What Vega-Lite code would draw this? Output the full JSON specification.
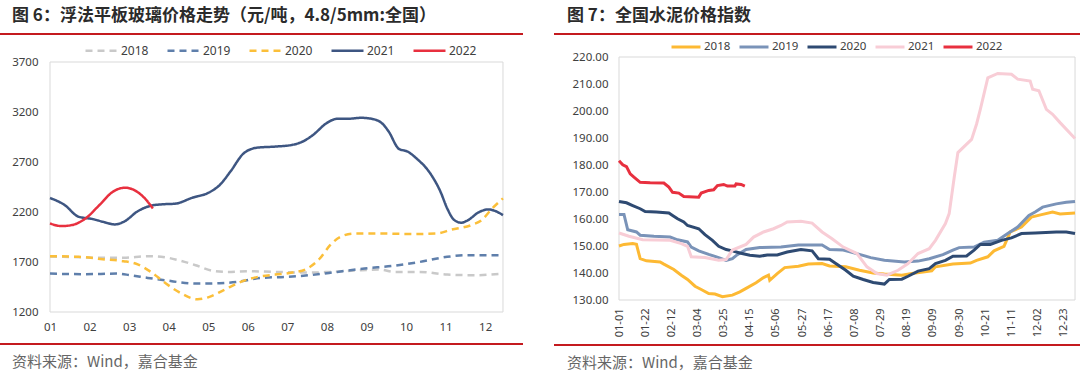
{
  "$schema": "https://vega.github.io/schema/vega-lite/v6.json",
  "background": "white",
  "padding": {"left": 0, "top": 7, "right": 0, "bottom": 0},
  "config": {
    "view": {"stroke": null},
    "axis": {"labelFont": "Noto Sans", "labelColor": "#404040", "grid": false, "domain": false, "ticks": false, "labelFlush": false, "labelOverlap": false, "title": null},
    "legend": {"labelFont": "Noto Sans", "labelColor": "#404040", "labelFontSize": 12}
  },
  "resolve": {"scale": {"color": "independent", "strokeDash": "independent"}, "legend": {"color": "independent", "strokeDash": "independent"}},
  "spacing": 31,
  "hconcat": [
    {
      "spacing": 10,
      "vconcat": [
        {
          "width": 523, "height": 2,
          "title": {"text": "图 6：浮法平板玻璃价格走势（元/吨，4.8/5mm:全国）", "anchor": "start", "dx": 12, "offset": 8, "fontSize": 17, "font": "Noto Sans CJK SC", "fontWeight": "bold", "color": "#2b2b2b"},
          "data": {"values": [{}]},
          "mark": {"type": "rect", "color": "#c41a1f"},
          "encoding": {}
        },
        {
          "width": 523, "height": 267,
          "layer": [
            {
              "data": {"values": [{}]},
              "mark": {"type": "rect", "filled": false, "color": "#d9d9d9", "strokeWidth": 1},
              "encoding": {
                "x": {"datum": 1, "type": "quantitative"},
                "x2": {"datum": 12.45},
                "y": {"datum": 1200, "type": "quantitative"},
                "y2": {"datum": 3700}
              }
            },
            {
              "data": {"values": [
                {"s":"2018","m":1.00,"v":1755},{"s":"2018","m":1.60,"v":1750},{"s":"2018","m":2.33,"v":1742},{"s":"2018","m":2.86,"v":1742},{"s":"2018","m":3.47,"v":1758},{"s":"2018","m":3.81,"v":1752},{"s":"2018","m":4.25,"v":1718},{"s":"2018","m":4.68,"v":1668},{"s":"2018","m":5.12,"v":1611},{"s":"2018","m":5.47,"v":1601},{"s":"2018","m":5.99,"v":1608},{"s":"2018","m":6.69,"v":1601},{"s":"2018","m":7.56,"v":1594},{"s":"2018","m":8.08,"v":1601},{"s":"2018","m":8.87,"v":1618},{"s":"2018","m":9.30,"v":1625},{"s":"2018","m":9.74,"v":1601},{"s":"2018","m":10.35,"v":1601},{"s":"2018","m":11.04,"v":1574},{"s":"2018","m":11.74,"v":1568},{"s":"2018","m":12.45,"v":1584},
                {"s":"2019","m":1.00,"v":1584},{"s":"2019","m":1.90,"v":1578},{"s":"2019","m":2.68,"v":1584},{"s":"2019","m":3.03,"v":1568},{"s":"2019","m":3.47,"v":1541},{"s":"2019","m":3.90,"v":1518},{"s":"2019","m":4.68,"v":1484},{"s":"2019","m":5.29,"v":1488},{"s":"2019","m":5.73,"v":1501},{"s":"2019","m":6.34,"v":1541},{"s":"2019","m":6.95,"v":1551},{"s":"2019","m":7.56,"v":1568},{"s":"2019","m":8.26,"v":1601},{"s":"2019","m":8.95,"v":1635},{"s":"2019","m":9.65,"v":1661},{"s":"2019","m":10.35,"v":1701},{"s":"2019","m":11.04,"v":1752},{"s":"2019","m":11.57,"v":1768},{"s":"2019","m":12.45,"v":1768},
                {"s":"2020","m":1.00,"v":1758},{"s":"2020","m":1.72,"v":1752},{"s":"2020","m":2.33,"v":1728},{"s":"2020","m":2.86,"v":1708},{"s":"2020","m":3.16,"v":1685},{"s":"2020","m":3.55,"v":1601},{"s":"2020","m":3.90,"v":1494},{"s":"2020","m":4.25,"v":1401},{"s":"2020","m":4.73,"v":1327},{"s":"2020","m":5.03,"v":1351},{"s":"2020","m":5.38,"v":1417},{"s":"2020","m":5.82,"v":1501},{"s":"2020","m":6.25,"v":1551},{"s":"2020","m":6.69,"v":1574},{"s":"2020","m":7.12,"v":1594},{"s":"2020","m":7.47,"v":1628},{"s":"2020","m":7.82,"v":1735},{"s":"2020","m":8.08,"v":1868},{"s":"2020","m":8.34,"v":1952},{"s":"2020","m":8.69,"v":1985},{"s":"2020","m":9.30,"v":1985},{"s":"2020","m":10.17,"v":1980},{"s":"2020","m":10.78,"v":1985},{"s":"2020","m":11.13,"v":2022},{"s":"2020","m":11.65,"v":2069},{"s":"2020","m":11.91,"v":2119},{"s":"2020","m":12.18,"v":2236},{"s":"2020","m":12.45,"v":2336},
                {"s":"2021","m":1.00,"v":2340},{"s":"2021","m":1.37,"v":2270},{"s":"2021","m":1.72,"v":2153},{"s":"2021","m":2.07,"v":2130},{"s":"2021","m":2.33,"v":2103},{"s":"2021","m":2.64,"v":2076},{"s":"2021","m":2.90,"v":2110},{"s":"2021","m":3.20,"v":2203},{"s":"2021","m":3.55,"v":2263},{"s":"2021","m":3.81,"v":2276},{"s":"2021","m":4.16,"v":2283},{"s":"2021","m":4.60,"v":2343},{"s":"2021","m":5.03,"v":2397},{"s":"2021","m":5.29,"v":2470},{"s":"2021","m":5.56,"v":2604},{"s":"2021","m":5.90,"v":2788},{"s":"2021","m":6.25,"v":2844},{"s":"2021","m":6.69,"v":2854},{"s":"2021","m":7.12,"v":2871},{"s":"2021","m":7.39,"v":2905},{"s":"2021","m":7.65,"v":2971},{"s":"2021","m":7.99,"v":3088},{"s":"2021","m":8.26,"v":3132},{"s":"2021","m":8.52,"v":3132},{"s":"2021","m":8.87,"v":3142},{"s":"2021","m":9.13,"v":3132},{"s":"2021","m":9.39,"v":3088},{"s":"2021","m":9.56,"v":3005},{"s":"2021","m":9.82,"v":2831},{"s":"2021","m":10.04,"v":2804},{"s":"2021","m":10.26,"v":2737},{"s":"2021","m":10.61,"v":2587},{"s":"2021","m":10.87,"v":2403},{"s":"2021","m":11.04,"v":2236},{"s":"2021","m":11.22,"v":2119},{"s":"2021","m":11.39,"v":2093},{"s":"2021","m":11.57,"v":2119},{"s":"2021","m":11.83,"v":2196},{"s":"2021","m":12.09,"v":2226},{"s":"2021","m":12.26,"v":2209},{"s":"2021","m":12.45,"v":2169},
                {"s":"2022","m":1.00,"v":2086},{"s":"2022","m":1.29,"v":2059},{"s":"2022","m":1.55,"v":2069},{"s":"2022","m":1.90,"v":2136},{"s":"2022","m":2.25,"v":2270},{"s":"2022","m":2.59,"v":2403},{"s":"2022","m":2.90,"v":2443},{"s":"2022","m":3.20,"v":2403},{"s":"2022","m":3.42,"v":2326},{"s":"2022","m":3.60,"v":2235}
              ]},
              "mark": {"type": "line", "interpolate": "monotone", "strokeWidth": 2.5},
              "encoding": {
                "x": {"field": "m", "type": "quantitative", "scale": {"domain": [-0.264, 12.956], "nice": false, "zero": false},
                      "axis": {"values": [1,2,3,4,5,6,7,8,9,10,11,12], "tickCount": 50, "labelExpr": "(datum.value < 10 ? '0' : '') + datum.value", "labelPadding": 9, "labelFontSize": 11.5, "labelOverlap": false}},
                "y": {"field": "v", "type": "quantitative", "scale": {"domain": [1200, 3870], "nice": false, "zero": false},
                      "axis": {"values": [1200,1700,2200,2700,3200,3700], "tickCount": 50, "format": "d", "offset": -50, "labelPadding": 12, "labelFontSize": 11.5, "labelOverlap": false}},
                "color": {"field": "s", "type": "nominal",
                          "scale": {"domain": ["2018","2019","2020","2021","2022"], "range": ["#c9c9c9","#5f7fab","#fbbf3a","#3e5682","#e8303f"]},
                          "legend": {"title": null, "orient": "none", "legendX": 84, "legendY": 0, "direction": "horizontal", "symbolType": "stroke", "symbolSize": 1024, "symbolStrokeWidth": 2.5, "labelOffset": 2, "columnPadding": 13}},
                "strokeDash": {"field": "s", "type": "nominal",
                          "scale": {"domain": ["2018","2019","2020","2021","2022"], "range": [[7,5],[7,5],[7,5],[1,0],[1,0]]},
                          "legend": {"title": null, "orient": "none", "legendX": 84, "legendY": 0, "direction": "horizontal", "symbolType": "stroke", "symbolSize": 1024, "symbolStrokeWidth": 2.5, "labelOffset": 2, "columnPadding": 13}}
              }
            }
          ]
        },
        {
          "width": 523, "height": 2,
          "title": {"text": "资料来源：Wind，嘉合基金", "orient": "bottom", "anchor": "start", "dx": 12, "offset": 10, "fontSize": 15, "font": "Noto Sans CJK SC", "fontWeight": "normal", "color": "#666666"},
          "data": {"values": [{}]},
          "mark": {"type": "rect", "color": "#c41a1f"},
          "encoding": {}
        }
      ]
    },
    {
      "spacing": 7,
      "vconcat": [
        {
          "width": 526, "height": 2,
          "title": {"text": "图 7：全国水泥价格指数", "anchor": "start", "dx": 13, "offset": 8, "fontSize": 17, "font": "Noto Sans CJK SC", "fontWeight": "bold", "color": "#2b2b2b"},
          "data": {"values": [{}]},
          "mark": {"type": "rect", "color": "#c41a1f"},
          "encoding": {}
        },
        {
          "width": 526, "height": 258,
          "layer": [
            {
              "data": {"values": [{}]},
              "mark": {"type": "rect", "filled": false, "color": "#d9d9d9", "strokeWidth": 1},
              "encoding": {
                "x": {"datum": 0, "type": "quantitative"},
                "x2": {"datum": 366},
                "y": {"datum": 130, "type": "quantitative"},
                "y2": {"datum": 220}
              }
            },
            {
              "data": {"values": [
                {"s":"2018","d":0,"v":150.0},{"s":"2018","d":4,"v":150.6},{"s":"2018","d":11,"v":150.9},{"s":"2018","d":14,"v":150.6},{"s":"2018","d":17,"v":145.3},{"s":"2018","d":22,"v":144.5},{"s":"2018","d":33,"v":144.1},{"s":"2018","d":36,"v":143.3},{"s":"2018","d":44,"v":141.3},{"s":"2018","d":50,"v":139.2},{"s":"2018","d":55,"v":137.6},{"s":"2018","d":61,"v":135.1},{"s":"2018","d":66,"v":133.9},{"s":"2018","d":72,"v":132.4},{"s":"2018","d":77,"v":132.2},{"s":"2018","d":83,"v":131.2},{"s":"2018","d":91,"v":131.8},{"s":"2018","d":97,"v":133.0},{"s":"2018","d":102,"v":134.3},{"s":"2018","d":110,"v":136.4},{"s":"2018","d":116,"v":138.3},{"s":"2018","d":120,"v":139.2},{"s":"2018","d":121,"v":137.3},{"s":"2018","d":127,"v":139.8},{"s":"2018","d":133,"v":142.0},{"s":"2018","d":144,"v":142.5},{"s":"2018","d":152,"v":143.3},{"s":"2018","d":163,"v":143.5},{"s":"2018","d":169,"v":142.6},{"s":"2018","d":182,"v":142.3},{"s":"2018","d":193,"v":141.0},{"s":"2018","d":204,"v":140.0},{"s":"2018","d":213,"v":139.6},{"s":"2018","d":227,"v":139.2},{"s":"2018","d":235,"v":139.8},{"s":"2018","d":251,"v":140.8},{"s":"2018","d":254,"v":142.3},{"s":"2018","d":268,"v":143.3},{"s":"2018","d":282,"v":143.7},{"s":"2018","d":287,"v":144.7},{"s":"2018","d":296,"v":146.0},{"s":"2018","d":301,"v":148.2},{"s":"2018","d":309,"v":149.9},{"s":"2018","d":314,"v":155.2},{"s":"2018","d":323,"v":157.0},{"s":"2018","d":331,"v":160.7},{"s":"2018","d":340,"v":161.7},{"s":"2018","d":348,"v":162.6},{"s":"2018","d":354,"v":161.9},{"s":"2018","d":366,"v":162.2},
                {"s":"2019","d":0,"v":161.7},{"s":"2019","d":4,"v":161.7},{"s":"2019","d":7,"v":156.0},{"s":"2019","d":14,"v":155.2},{"s":"2019","d":17,"v":154.0},{"s":"2019","d":28,"v":153.6},{"s":"2019","d":41,"v":153.3},{"s":"2019","d":47,"v":152.3},{"s":"2019","d":55,"v":151.5},{"s":"2019","d":58,"v":149.6},{"s":"2019","d":64,"v":148.2},{"s":"2019","d":72,"v":146.9},{"s":"2019","d":80,"v":145.7},{"s":"2019","d":86,"v":144.7},{"s":"2019","d":91,"v":145.3},{"s":"2019","d":95,"v":146.8},{"s":"2019","d":102,"v":148.7},{"s":"2019","d":113,"v":149.4},{"s":"2019","d":130,"v":149.6},{"s":"2019","d":144,"v":150.4},{"s":"2019","d":163,"v":150.4},{"s":"2019","d":169,"v":148.7},{"s":"2019","d":180,"v":148.5},{"s":"2019","d":193,"v":146.9},{"s":"2019","d":202,"v":145.7},{"s":"2019","d":213,"v":144.7},{"s":"2019","d":229,"v":144.1},{"s":"2019","d":240,"v":144.4},{"s":"2019","d":249,"v":145.3},{"s":"2019","d":260,"v":146.8},{"s":"2019","d":268,"v":148.5},{"s":"2019","d":273,"v":149.4},{"s":"2019","d":285,"v":149.6},{"s":"2019","d":293,"v":151.4},{"s":"2019","d":304,"v":152.1},{"s":"2019","d":312,"v":154.6},{"s":"2019","d":320,"v":157.0},{"s":"2019","d":329,"v":161.3},{"s":"2019","d":334,"v":162.6},{"s":"2019","d":340,"v":164.4},{"s":"2019","d":351,"v":165.6},{"s":"2019","d":359,"v":166.2},{"s":"2019","d":366,"v":166.5},
                {"s":"2020","d":0,"v":166.5},{"s":"2020","d":6,"v":166.0},{"s":"2020","d":11,"v":165.0},{"s":"2020","d":17,"v":163.8},{"s":"2020","d":21,"v":162.8},{"s":"2020","d":30,"v":162.6},{"s":"2020","d":40,"v":162.2},{"s":"2020","d":43,"v":161.3},{"s":"2020","d":47,"v":160.1},{"s":"2020","d":52,"v":158.9},{"s":"2020","d":55,"v":157.6},{"s":"2020","d":64,"v":156.4},{"s":"2020","d":69,"v":154.2},{"s":"2020","d":75,"v":152.1},{"s":"2020","d":80,"v":149.9},{"s":"2020","d":86,"v":148.7},{"s":"2020","d":91,"v":148.2},{"s":"2020","d":97,"v":147.4},{"s":"2020","d":105,"v":146.6},{"s":"2020","d":113,"v":146.2},{"s":"2020","d":119,"v":146.7},{"s":"2020","d":127,"v":146.7},{"s":"2020","d":135,"v":147.8},{"s":"2020","d":146,"v":148.7},{"s":"2020","d":155,"v":148.2},{"s":"2020","d":160,"v":145.3},{"s":"2020","d":169,"v":145.1},{"s":"2020","d":174,"v":143.5},{"s":"2020","d":182,"v":141.0},{"s":"2020","d":188,"v":138.8},{"s":"2020","d":196,"v":137.6},{"s":"2020","d":204,"v":136.5},{"s":"2020","d":213,"v":135.9},{"s":"2020","d":217,"v":137.6},{"s":"2020","d":227,"v":137.7},{"s":"2020","d":232,"v":138.8},{"s":"2020","d":240,"v":140.7},{"s":"2020","d":249,"v":141.6},{"s":"2020","d":254,"v":143.5},{"s":"2020","d":262,"v":144.7},{"s":"2020","d":268,"v":146.2},{"s":"2020","d":279,"v":146.3},{"s":"2020","d":285,"v":148.5},{"s":"2020","d":290,"v":150.6},{"s":"2020","d":298,"v":150.6},{"s":"2020","d":307,"v":152.1},{"s":"2020","d":315,"v":153.0},{"s":"2020","d":323,"v":154.6},{"s":"2020","d":334,"v":154.8},{"s":"2020","d":351,"v":155.2},{"s":"2020","d":359,"v":155.2},{"s":"2020","d":366,"v":154.6},
                {"s":"2021","d":0,"v":154.8},{"s":"2021","d":8,"v":153.6},{"s":"2021","d":19,"v":152.3},{"s":"2021","d":41,"v":152.1},{"s":"2021","d":50,"v":150.9},{"s":"2021","d":55,"v":149.9},{"s":"2021","d":58,"v":146.0},{"s":"2021","d":69,"v":145.7},{"s":"2021","d":80,"v":144.7},{"s":"2021","d":86,"v":145.0},{"s":"2021","d":91,"v":148.5},{"s":"2021","d":102,"v":150.6},{"s":"2021","d":108,"v":153.3},{"s":"2021","d":116,"v":155.2},{"s":"2021","d":124,"v":156.4},{"s":"2021","d":130,"v":157.6},{"s":"2021","d":135,"v":158.9},{"s":"2021","d":146,"v":159.2},{"s":"2021","d":155,"v":158.5},{"s":"2021","d":163,"v":155.2},{"s":"2021","d":171,"v":152.7},{"s":"2021","d":180,"v":149.6},{"s":"2021","d":191,"v":147.2},{"s":"2021","d":199,"v":142.3},{"s":"2021","d":207,"v":139.8},{"s":"2021","d":215,"v":139.2},{"s":"2021","d":224,"v":141.0},{"s":"2021","d":232,"v":143.5},{"s":"2021","d":240,"v":147.2},{"s":"2021","d":249,"v":149.0},{"s":"2021","d":254,"v":152.1},{"s":"2021","d":262,"v":158.3},{"s":"2021","d":265,"v":162.0},{"s":"2021","d":269,"v":175.3},{"s":"2021","d":272,"v":184.6},{"s":"2021","d":283,"v":189.5},{"s":"2021","d":287,"v":195.2},{"s":"2021","d":290,"v":200.6},{"s":"2021","d":296,"v":212.3},{"s":"2021","d":304,"v":213.9},{"s":"2021","d":315,"v":213.6},{"s":"2021","d":320,"v":211.8},{"s":"2021","d":330,"v":211.1},{"s":"2021","d":332,"v":208.1},{"s":"2021","d":337,"v":207.5},{"s":"2021","d":343,"v":200.6},{"s":"2021","d":348,"v":198.8},{"s":"2021","d":354,"v":195.7},{"s":"2021","d":366,"v":189.8},
                {"s":"2022","d":0,"v":181.6},{"s":"2022","d":3,"v":180.1},{"s":"2022","d":6,"v":179.4},{"s":"2022","d":9,"v":176.7},{"s":"2022","d":12,"v":175.5},{"s":"2022","d":17,"v":173.6},{"s":"2022","d":25,"v":173.4},{"s":"2022","d":36,"v":173.3},{"s":"2022","d":40,"v":171.8},{"s":"2022","d":43,"v":169.9},{"s":"2022","d":48,"v":169.6},{"s":"2022","d":52,"v":168.3},{"s":"2022","d":64,"v":168.1},{"s":"2022","d":66,"v":169.6},{"s":"2022","d":72,"v":170.6},{"s":"2022","d":76,"v":170.8},{"s":"2022","d":79,"v":172.4},{"s":"2022","d":84,"v":172.8},{"s":"2022","d":87,"v":172.2},{"s":"2022","d":93,"v":172.2},{"s":"2022","d":94,"v":173.0},{"s":"2022","d":98,"v":172.8},{"s":"2022","d":101,"v":172.2}
              ]},
              "mark": {"type": "line", "strokeWidth": 3},
              "encoding": {
                "x": {"field": "d", "type": "quantitative", "scale": {"domain": [-52.17, 370.0], "nice": false, "zero": false},
                      "axis": {"values": [0,21,42,63,84,105,126,147,168,189,210,231,252,273,294,315,336,357], "tickCount": 50, "labelExpr": "['01-01','01-22','02-12','03-04','03-25','04-15','05-06','05-27','06-17','07-08','07-29','08-19','09-09','09-30','10-21','11-11','12-02','12-23'][round(datum.value/21)]", "labelAngle": -90, "labelPadding": 8, "labelFontSize": 11, "labelOverlap": false}},
                "y": {"field": "v", "type": "quantitative", "scale": {"domain": [130, 225.56], "nice": false, "zero": false},
                      "axis": {"values": [130,140,150,160,170,180,190,200,210,220], "tickCount": 50, "format": ".2f", "offset": -65, "labelPadding": 11, "labelFontSize": 11.5, "labelOverlap": false}},
                "color": {"field": "s", "type": "nominal",
                          "scale": {"domain": ["2018","2019","2020","2021","2022"], "range": ["#fdb933","#7a93b8","#2e4a72","#f8cdd6","#e8303f"]},
                          "legend": {"title": null, "orient": "none", "legendX": 116, "legendY": -2, "direction": "horizontal", "symbolType": "stroke", "symbolSize": 841, "symbolStrokeWidth": 3, "labelOffset": 2, "columnPadding": 2, "labelFontSize": 11.5}}
              }
            }
          ]
        },
        {
          "width": 526, "height": 2,
          "title": {"text": "资料来源：Wind，嘉合基金", "orient": "bottom", "anchor": "start", "dx": 13, "offset": 10, "fontSize": 15, "font": "Noto Sans CJK SC", "fontWeight": "normal", "color": "#666666"},
          "data": {"values": [{}]},
          "mark": {"type": "rect", "color": "#c41a1f"},
          "encoding": {}
        }
      ]
    }
  ]
}
